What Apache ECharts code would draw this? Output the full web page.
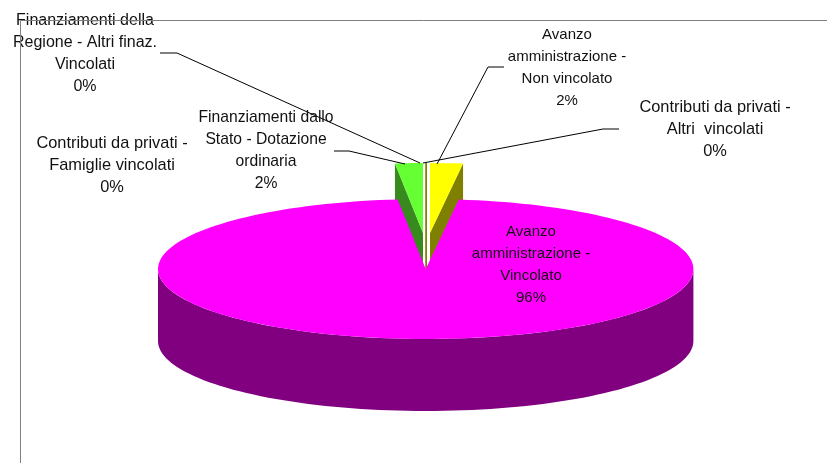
<!DOCTYPE html>
<html>
<head>
<meta charset="utf-8">
<style>
  html, body { margin: 0; padding: 0; background: #fff; }
  #chart { width: 827px; height: 463px; }
</style>
<script src="https://cdn.jsdelivr.net/npm/echarts@6/dist/echarts.min.js"></script>
</head>
<body>
<div id="chart"></div>
<script>
// clockwise from 12 o'clock
const categories = [
  "Contributi da privati -\nAltri  vincolati",
  "Avanzo\namministrazione -\nNon vincolato",
  "Avanzo\namministrazione -\nVincolato",
  "Contributi da privati -\nFamiglie vincolati",
  "Finanziamenti dallo\nStato - Dotazione\nordinaria",
  "Finanziamenti della\nRegione - Altri finaz.\nVincolati",
];
const shares = [0, 1.97, 96.36, 0, 1.67, 0];
const topColors = ["#ffffff", "#ffff00", "#ff00ff", "#ffffff", "#66ff33", "#ffffff"];
const sideColors = ["#808000", "#808000", "#800080", null, "#388a1e", null];

// layout of the 3d pie
const cx = 425.7;
const cy = 269;
const rx = 267.7;
const ry = 70;
const depth = 72;
const explodeY = 36;
const explodeX = [0.5, 4.3, 0, -2.7, -2.7, 0];

const labelPos = [
  [715, 129],
  [567, 67.5],
  [531, 264.5],
  [112, 165],
  [266, 150.5],
  [85, 53.5],
];
const labelSizes = [16.4, 15, 15, 16.4, 15.7, 16];
const leaders = [
  [[619, 129], [603, 129], [423, 163]],
  [[504, 67], [488, 67], [437, 164]],
  null,
  null,
  [[334, 151], [349, 151], [405, 164]],
  [[160, 53], [177, 53], [420, 163]],
];

const total = shares.reduce((s, v) => s + v, 0);

function edgePoint(deg, ox, oy) {
  const a = (deg * Math.PI) / 180;
  return [cx + ox + rx * Math.sin(a), cy + oy - ry * Math.cos(a)];
}

function arc(from, to, ox, oy) {
  const pts = [];
  const steps = Math.max(1, Math.ceil(Math.abs(to - from) / 2));
  for (let k = 0; k <= steps; k++) {
    pts.push(edgePoint(from + ((to - from) * k) / steps, ox, oy));
  }
  return pts;
}

function renderSlice(params) {
  const i = params.dataIndex;
  const start = (shares.slice(0, i).reduce((s, v) => s + v, 0) / total) * 360;
  const end = start + (shares[i] / total) * 360;
  const exploded = shares[i] < 50;
  const ox = exploded ? explodeX[i] : 0;
  const oy = exploded ? -explodeY : 0;
  const apex = [cx + ox, cy + oy];
  const children = [];

  if (exploded) {
    // radial walls, the big slice's top face hides their lower part
    [start, end].forEach((deg) => {
      if (!sideColors[i]) return;
      const p = edgePoint(deg, ox, oy);
      children.push({
        type: "polygon",
        z2: 1,
        shape: { points: [p, apex, [apex[0], apex[1] + depth], [p[0], p[1] + depth]] },
        style: { fill: sideColors[i], stroke: sideColors[i], lineWidth: shares[i] === 0 ? 1 : 0 },
      });
    });
  } else {
    // front rim
    const front = arc(90, 270, ox, oy);
    const lower = front.map((p) => [p[0], p[1] + depth]).reverse();
    children.push({
      type: "polygon",
      z2: 3,
      shape: { points: front.concat(lower) },
      style: { fill: sideColors[i] },
    });
  }

  if (shares[i] > 0) {
    children.push({
      type: "polygon",
      z2: exploded ? 2 : 4,
      shape: { points: [apex].concat(arc(start, end, ox, oy)) },
      style: { fill: topColors[i] },
    });
  }

  if (leaders[i]) {
    children.push({
      type: "polyline",
      z2: 5,
      shape: { points: leaders[i] },
      style: { fill: "none", stroke: "#000000", lineWidth: 1 },
    });
  }

  children.push({
    type: "text",
    z2: 6,
    style: {
      x: labelPos[i][0],
      y: labelPos[i][1],
      text: categories[i] + "\n" + Math.round(shares[i]) + "%",
      textAlign: "center",
      textVerticalAlign: "middle",
      font: labelSizes[i] + 'px "Liberation Sans", Arial, sans-serif',
      lineHeight: 22,
      fill: "#111111",
      stroke: "transparent",
      lineWidth: 0,
    },
  });

  return { type: "group", children };
}

const chart = echarts.init(document.getElementById("chart"), null, { renderer: "canvas" });

chart.setOption({
  animation: false,
  backgroundColor: "#ffffff",
  graphic: [
    {
      type: "polyline",
      silent: true,
      z: 10,
      shape: { points: [[827, 20.5], [20.5, 20.5], [20.5, 463]] },
      style: { fill: "none", stroke: "#808080", lineWidth: 1 },
    },
  ],
  series: [
    {
      type: "custom",
      coordinateSystem: "none",
      silent: true,
      z: 2,
      data: shares.map((v, i) => [i, v]),
      renderItem: renderSlice,
    },
  ],
});
</script>
</body>
</html>
